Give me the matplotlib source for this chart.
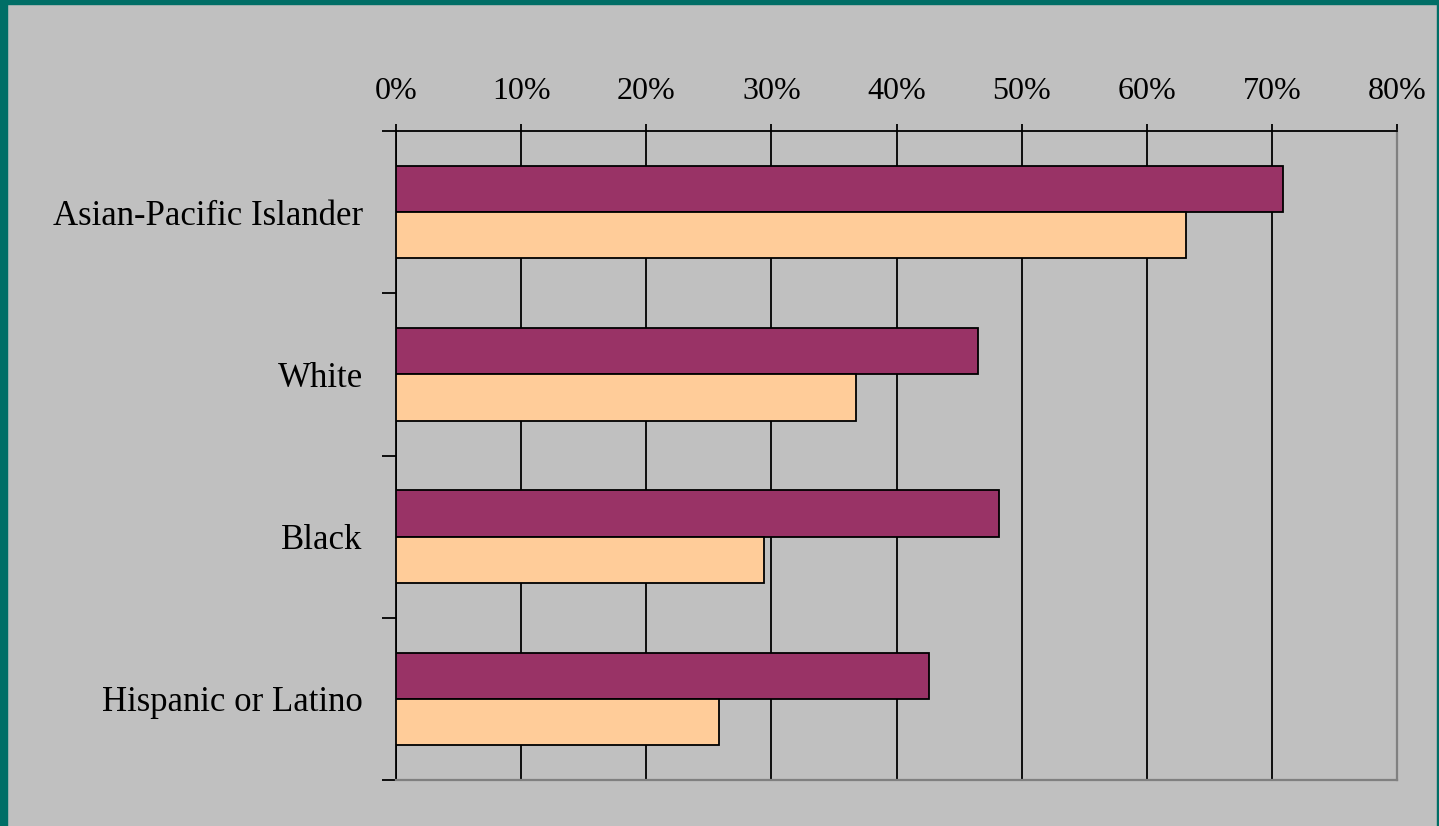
import numpy as np
import matplotlib
matplotlib.use("Agg")
import matplotlib.pyplot as plt
from matplotlib.patches import Rectangle
from matplotlib.ticker import PercentFormatter

# data
categories = ["Asian-Pacific Islander", "White", "Black", "Hispanic or Latino"]
series_a = [70.9, 46.5, 48.2, 42.6]   # purple bars
series_b = [63.1, 36.8, 29.4, 25.8]   # peach bars
x_ticks = [0, 10, 20, 30, 40, 50, 60, 70, 80]

plt.rcParams['font.family'] = ['Liberation Serif', 'DejaVu Serif']

fig = plt.figure(figsize=(14.39, 8.26), dpi=100)
fig.patch.set_facecolor("#C0C0C0")

# teal frame around the slide
teal = "#006E66"
fig.patches.append(Rectangle((0, 0), 7 / 1439, 1, transform=fig.transFigure, color=teal, zorder=0))
fig.patches.append(Rectangle((0, 1 - 4 / 826), 1, 4 / 826, transform=fig.transFigure, color=teal, zorder=0))
fig.patches.append(Rectangle((1 - 2 / 1439, 0), 2 / 1439, 1, transform=fig.transFigure, color=teal, zorder=0))

ax = fig.add_axes([396 / 1439, 1 - 780 / 826, 1001 / 1439, 649 / 826])
ax.set_facecolor("#C0C0C0")

y = np.arange(len(categories))
h = 1 / 3.5
ax.barh(y - h / 2, series_a, height=h, color="#993366", edgecolor="black", linewidth=1.3, zorder=3)
ax.barh(y + h / 2, series_b, height=h, color="#FFCC99", edgecolor="black", linewidth=1.3, zorder=3)

ax.set_xlim(0, 80)
ax.set_ylim(len(categories) - 0.5, -0.5)
ax.set_xticks(x_ticks)
ax.xaxis.set_major_formatter(PercentFormatter(decimals=0))
ax.xaxis.tick_top()
ax.tick_params(axis="x", direction="out", length=5, width=1.3, pad=13, labelsize=23)
ax.grid(axis="x", color="black", linewidth=1.3, zorder=1)

# category labels sit between the y ticks
ax.set_yticks(np.arange(len(categories) + 1) - 0.5)
ax.set_yticklabels([])
ax.set_yticks(y, minor=True)
ax.set_yticklabels(categories, minor=True, fontsize=25)
ax.tick_params(axis="y", which="major", direction="out", length=10, width=1.3)
ax.tick_params(axis="y", which="minor", length=0, pad=24)

for side in ("top", "left"):
    ax.spines[side].set_color("black")
    ax.spines[side].set_linewidth(1.3)
for side in ("right", "bottom"):
    ax.spines[side].set_color("#808080")
    ax.spines[side].set_linewidth(1.6)

fig.savefig("out.png", dpi=100, facecolor=fig.get_facecolor())
